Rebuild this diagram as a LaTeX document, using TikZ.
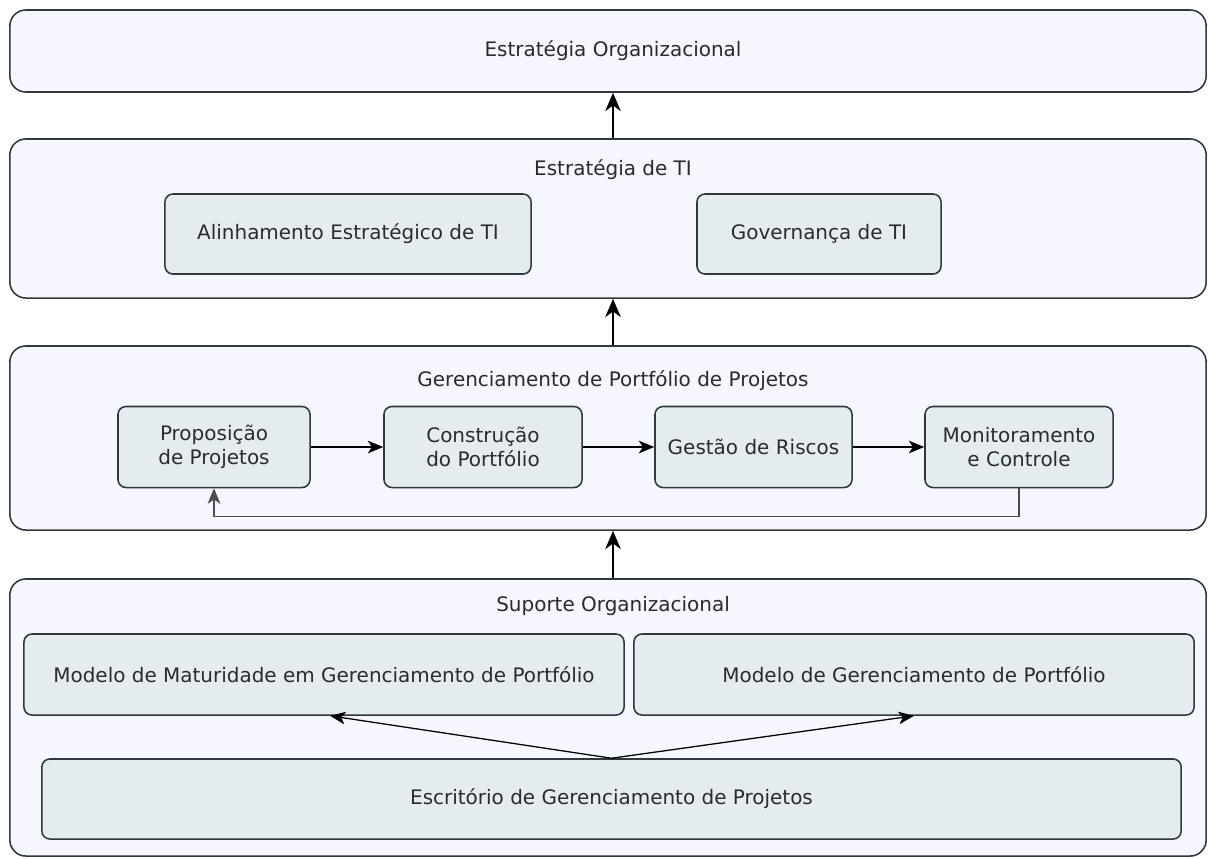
\documentclass[tikz,border=0pt]{standalone}
\usepackage{fontspec}
\setmainfont{DejaVu Sans}
\usepackage{tikz}
\usetikzlibrary{arrows.meta}
\definecolor{layerfill}{HTML}{F5F6FE}
\definecolor{boxfill}{HTML}{E5ECEF}
\definecolor{edge}{HTML}{2E383D}
\definecolor{txt}{HTML}{2B2B2B}

\begin{document}
\begin{tikzpicture}[x=0.025cm, y=-0.025cm,
  every node/.style={font=\fontsize{14.2}{17}\selectfont, text=txt, align=center},
  layer/.style={draw=edge, fill=layerfill, line width=1.1pt, rounded corners=0.4cm, minimum width=29.9cm},
  block/.style={draw=edge, fill=boxfill, line width=1.1pt, rounded corners=0.2cm},
  up/.style={-{Stealth[length=13pt, width=11pt, inset=4pt]}, line width=1.5pt, black},
  flow/.style={-{Stealth[length=11pt, width=9pt, inset=3pt]}, line width=0.9pt, black}]
\useasboundingbox (0,0) rectangle (1208,858);

\node[layer, minimum height=2.05cm] (org) at (608,51) {};
\node (orgtitle) at (613,51) {Estratégia Organizacional};

\node[layer, minimum height=3.975cm] (ti) at (608,218.5) {};
\node (tititle) at (613,170) {Estratégia de TI};
\node[block, minimum width=9.15cm, minimum height=2cm] (align) at (348,234) {Alinhamento Estratégico de TI};
\node[block, minimum width=6.1cm, minimum height=2cm] (gov) at (819,234) {Governança de TI};

\node[layer, minimum height=4.6cm] (ppp) at (608,438) {};
\node (ppptitle) at (613,381) {Gerenciamento de Portfólio de Projetos};
\node[block, minimum width=4.8cm, minimum height=2.025cm] (prop) at (214,447) {Proposição\\de Projetos};
\node[block, minimum width=4.95cm, minimum height=2.025cm] (cons) at (483,447) {Construção\\do Portfólio};
\node[block, minimum width=4.925cm, minimum height=2.025cm] (risk) at (753.5,447) {Gestão de Riscos};
\node[block, minimum width=4.7cm, minimum height=2.025cm] (mon) at (1019,447) {Monitoramento\\e Controle};

\node[layer, minimum height=6.925cm] (sup) at (608,717.5) {};
\node (suptitle) at (613,606) {Suporte Organizacional};
\node[block, minimum width=15cm, minimum height=2.025cm] (mmgp) at (324,674.5) {Modelo de Maturidade em Gerenciamento de Portfólio};
\node[block, minimum width=14cm, minimum height=2.025cm] (mgp) at (914,674.5) {Modelo de Gerenciamento de Portfólio};
\node[block, minimum width=28.475cm, minimum height=2cm] (epm) at (611.5,799) {Escritório de Gerenciamento de Projetos};

\draw[up] ([xshift=0.125cm]ti.north) -- ([xshift=0.125cm]org.south);
\draw[up] ([xshift=0.125cm]ppp.north) -- ([xshift=0.125cm]ti.south);
\draw[up] ([xshift=0.125cm]sup.north) -- ([xshift=0.125cm]ppp.south);

\draw[flow] (prop) -- (cons);
\draw[flow] (cons) -- (risk);
\draw[flow] (risk) -- (mon);
\draw[flow, black!70] (mon.south) -- ++(0,28.5) -| (prop.south);

\draw[flow] (epm.north) -- ([xshift=0.15cm]mmgp.south);
\draw[flow] (epm.north) -- (mgp.south);
\end{tikzpicture}
\end{document}
